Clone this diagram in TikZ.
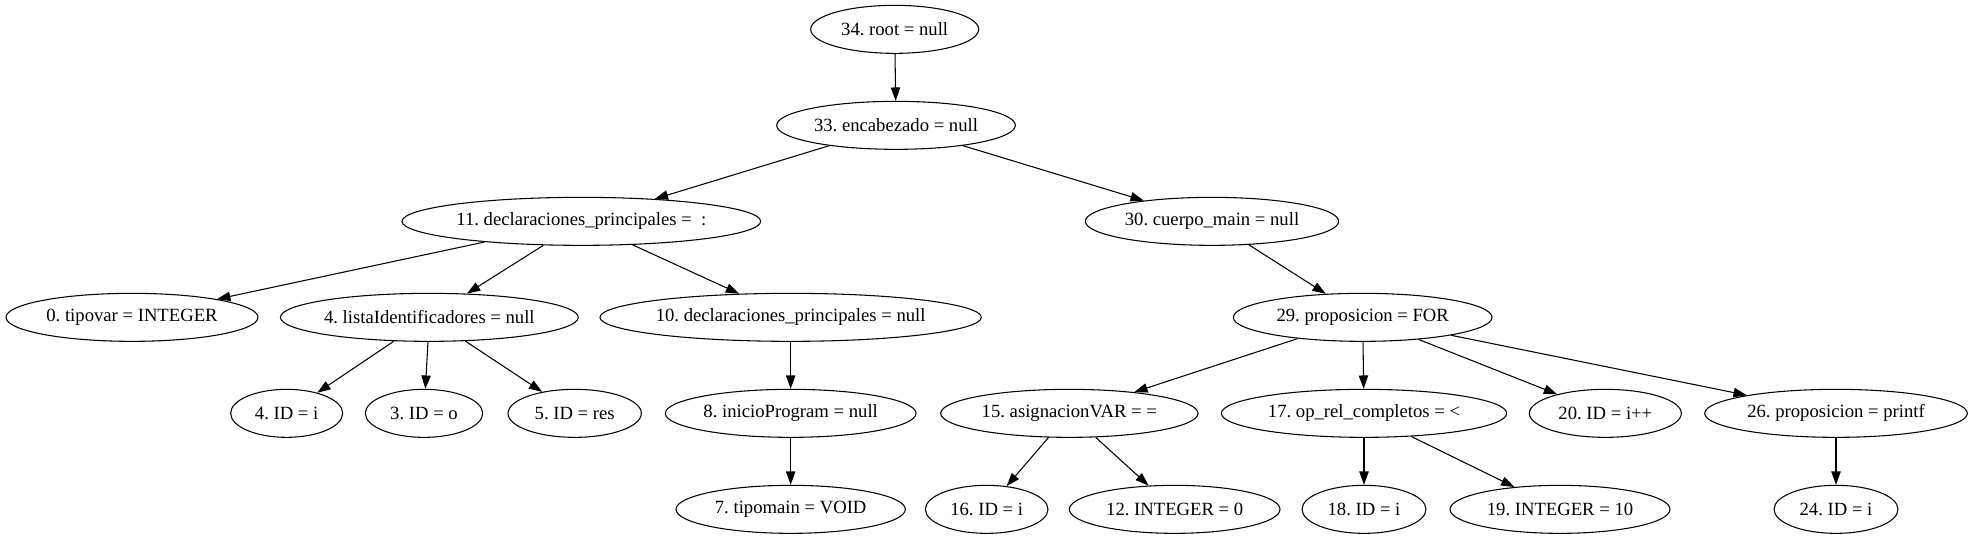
\documentclass[tikz,border=0pt]{standalone}
\usepackage{fontspec}
\setmainfont{Liberation Serif}
\usetikzlibrary{shapes.geometric,arrows.meta}
\tikzset{>={Triangle[length=10pt,width=7pt]}}
\tikzset{nodo/.style={draw,ellipse,minimum height=36pt,inner sep=0pt,
    font=\fontsize{14pt}{16pt}\selectfont\frenchspacing}}

\begin{document}
\begin{tikzpicture}[x=1pt,y=-1pt,line width=0.8pt]
  \useasboundingbox (0,0) rectangle (1479,404);
  % raiz y encabezado
  \node[nodo,minimum width=126pt] (n34) at (671,22) {34. root = null};
  \node[nodo,minimum width=179pt] (n33) at (672,94) {33. encabezado = null};
  \node[nodo,minimum width=269pt] (n11) at (436,166) {11. declaraciones\_principales =\ \ :};
  \node[nodo,minimum width=190pt] (n30) at (909,166) {30. cuerpo\_main = null};
  % declaraciones
  \node[nodo,minimum width=189pt] (n0) at (99,238) {0. tipovar = INTEGER};
  \node[nodo,minimum width=223pt] (n4) at (322,238) {4. listaIdentificadores = null};
  \node[nodo,minimum width=282pt] (n10) at (593,238) {10. declaraciones\_principales = null};
  \node[nodo,minimum width=84pt] (id4) at (215,310) {4. ID = i};
  \node[nodo,minimum width=88pt] (id3) at (318,310) {3. ID = o};
  \node[nodo,minimum width=100pt] (id5) at (431,310) {5. ID = res};
  \node[nodo,minimum width=188pt] (n8) at (593,310) {8. inicioProgram = null};
  \node[nodo,minimum width=172pt] (n7) at (593,382) {7. tipomain = VOID};
  % cuerpo
  \node[nodo,minimum width=194pt] (n29) at (1022,238) {29. proposicion = FOR};
  \node[nodo,minimum width=193pt] (n15) at (802,310) {15. asignacionVAR = =};
  \node[nodo,minimum width=214pt] (n17) at (1023,310) {17. op\_rel\_completos = <};
  \node[nodo,minimum width=114pt] (id20) at (1204,310) {20. ID = i++};
  \node[nodo,minimum width=197pt] (n26) at (1377,310) {26. proposicion = printf};
  \node[nodo,minimum width=92pt] (id16) at (740,382) {16. ID = i};
  \node[nodo,minimum width=158pt] (n12) at (881,382) {12. INTEGER = 0};
  \node[nodo,minimum width=93pt] (id18) at (1023,382) {18. ID = i};
  \node[nodo,minimum width=165pt] (n19) at (1170,382) {19. INTEGER = 10};
  \node[nodo,minimum width=93pt] (id24) at (1377,382) {24. ID = i};
  % aristas
  \foreach \a/\b in {n34/n33, n33/n11, n33/n30, n11/n0, n11/n4, n11/n10,
      n4/id4, n4/id3, n4/id5, n10/n8, n8/n7, n30/n29, n29/n15, n29/n17,
      n29/id20, n29/n26, n15/id16, n15/n12, n17/id18, n17/n19, n26/id24}
    \draw[->] (\a) -- (\b);
\end{tikzpicture}
\end{document}
